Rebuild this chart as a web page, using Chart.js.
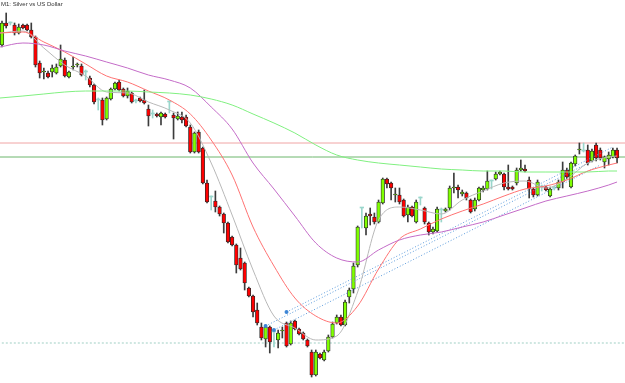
<!DOCTYPE html>
<html>
<head>
<meta charset="utf-8">
<script src="https://cdn.jsdelivr.net/npm/chart.js@4.4.1/dist/chart.umd.min.js"></script>
<style>
html,body{margin:0;padding:0;background:#fff;}
#wrap{position:relative;width:625px;height:383px;}
#title{position:absolute;left:1px;top:1px;font:6px "Liberation Sans",Arial,sans-serif;color:#333;white-space:nowrap;}
canvas{display:block;}
</style>
</head>
<body>
<div id="wrap">
<canvas id="c" width="625" height="383"></canvas>
<div id="title">M1: Silver vs US Dollar</div>
</div>
<script>
// ---- candle data (M1 bars, oldest first) ----
const open = [15.455,15.477,15.477,15.475,15.467,15.475,15.475,15.470,15.463,15.437,
15.428,15.427,15.428,15.427,15.434,15.440,15.423,15.433,15.435,15.434,
15.428,15.422,15.415,15.400,15.400,15.381,15.401,15.411,15.418,15.411,
15.404,15.407,15.399,15.402,15.400,15.391,15.386,15.386,15.383,15.386,
15.398,15.385,15.381,15.383,15.383,15.373,15.348,15.368,15.352,15.317,
15.303,15.299,15.293,15.286,15.277,15.263,15.255,15.242,15.237,15.212,
15.204,15.190,15.173,15.161,15.173,15.168,15.160,15.169,15.177,15.156,
15.179,15.171,15.167,15.160,15.148,15.125,15.146,15.140,15.149,15.163,
15.177,15.183,15.175,15.203,15.211,15.235,15.292,15.272,15.286,15.283,
15.278,15.297,15.321,15.317,15.305,15.305,15.300,15.285,15.293,15.278,
15.302,15.292,15.277,15.268,15.269,15.290,15.289,15.292,15.312,15.313,
15.306,15.307,15.300,15.291,15.300,15.310,15.311,15.319,15.321,15.326,
15.326,15.313,15.313,15.317,15.330,15.331,15.320,15.311,15.305,15.313,
15.313,15.304,15.312,15.312,15.318,15.330,15.313,15.336,15.350,15.349,
15.350,15.339,15.355,15.350,15.338,15.341,15.343,15.350];
const high = [15.479,15.487,15.478,15.477,15.476,15.476,15.476,15.477,15.464,15.439,
15.432,15.429,15.435,15.436,15.455,15.442,15.429,15.443,15.437,15.436,
15.430,15.424,15.416,15.402,15.402,15.403,15.412,15.418,15.420,15.412,
15.412,15.408,15.401,15.403,15.410,15.395,15.390,15.387,15.388,15.387,
15.399,15.387,15.388,15.388,15.385,15.375,15.368,15.370,15.353,15.320,
15.304,15.309,15.294,15.287,15.278,15.264,15.256,15.252,15.238,15.213,
15.205,15.197,15.177,15.175,15.174,15.169,15.170,15.173,15.178,15.179,
15.180,15.172,15.168,15.161,15.150,15.150,15.147,15.150,15.165,15.178,
15.185,15.185,15.200,15.212,15.237,15.274,15.292,15.287,15.292,15.287,
15.300,15.322,15.322,15.318,15.312,15.312,15.301,15.295,15.294,15.300,
15.303,15.293,15.278,15.273,15.293,15.292,15.292,15.314,15.327,15.315,
15.310,15.308,15.301,15.302,15.313,15.314,15.329,15.320,15.328,15.329,
15.327,15.335,15.314,15.332,15.340,15.335,15.323,15.312,15.320,15.315,
15.314,15.313,15.314,15.320,15.338,15.332,15.338,15.345,15.357,15.357,
15.355,15.351,15.357,15.352,15.344,15.348,15.352,15.352];
const low = [15.453,15.472,15.475,15.465,15.466,15.471,15.469,15.462,15.433,15.422,
15.421,15.422,15.423,15.426,15.433,15.423,15.422,15.430,15.433,15.424,
15.420,15.413,15.396,15.390,15.375,15.380,15.400,15.410,15.409,15.403,
15.402,15.397,15.397,15.398,15.396,15.374,15.382,15.383,15.375,15.382,
15.387,15.361,15.380,15.377,15.373,15.347,15.347,15.347,15.316,15.297,
15.290,15.288,15.284,15.267,15.257,15.254,15.227,15.230,15.210,15.203,
15.183,15.175,15.160,15.153,15.147,15.153,15.152,15.162,15.153,15.155,
15.170,15.165,15.160,15.153,15.123,15.124,15.141,15.139,15.148,15.162,
15.176,15.174,15.174,15.197,15.207,15.233,15.272,15.265,15.275,15.276,
15.277,15.296,15.312,15.300,15.298,15.296,15.283,15.278,15.283,15.277,
15.295,15.276,15.265,15.266,15.268,15.278,15.288,15.290,15.307,15.302,
15.304,15.300,15.287,15.289,15.299,15.308,15.310,15.311,15.320,15.325,
15.310,15.310,15.310,15.315,15.329,15.328,15.302,15.303,15.304,15.309,
15.309,15.303,15.310,15.310,15.312,15.321,15.312,15.334,15.346,15.348,
15.335,15.338,15.339,15.340,15.332,15.335,15.342,15.337];
const close = [15.477,15.474,15.477,15.467,15.473,15.472,15.470,15.463,15.435,15.427,
15.429,15.423,15.432,15.433,15.441,15.424,15.428,15.434,15.436,15.425,
15.428,15.415,15.398,15.400,15.380,15.402,15.411,15.417,15.410,15.404,
15.409,15.398,15.399,15.399,15.397,15.384,15.386,15.384,15.387,15.383,
15.398,15.382,15.384,15.380,15.374,15.348,15.367,15.348,15.317,15.298,
15.303,15.293,15.286,15.277,15.258,15.255,15.235,15.231,15.217,15.204,
15.188,15.177,15.162,15.173,15.158,15.168,15.167,15.170,15.154,15.177,
15.171,15.166,15.161,15.154,15.125,15.148,15.142,15.148,15.163,15.176,
15.183,15.175,15.198,15.210,15.234,15.273,15.292,15.284,15.284,15.278,
15.298,15.321,15.316,15.312,15.306,15.298,15.284,15.293,15.284,15.298,
15.302,15.278,15.268,15.271,15.291,15.290,15.291,15.312,15.313,15.310,
15.308,15.302,15.288,15.300,15.312,15.312,15.319,15.319,15.326,15.328,
15.313,15.311,15.311,15.330,15.332,15.329,15.311,15.305,15.318,15.313,
15.310,15.311,15.312,15.318,15.330,15.323,15.337,15.344,15.351,15.349,
15.337,15.349,15.342,15.342,15.343,15.345,15.350,15.342];

// ---- moving averages, read at sampled bar positions ----
const maBars = [-0.5,5,10,15,20,25,30,35,40,45,50,55,60,65,70,75,80,85,90,95,100,105,110,115,120,125,130,135,140,145,147];
const maFast = [15.467,15.469,15.452,15.435,15.424,15.408,15.407,15.398,15.390,15.377,15.337,15.285,15.230,15.184,15.172,15.160,15.164,15.208,15.280,15.293,15.290,15.286,15.300,15.309,15.317,15.319,15.312,15.321,15.337,15.343,15.344];
const maMid = [15.467,15.468,15.458,15.448,15.436,15.424,15.418,15.409,15.400,15.386,15.360,15.325,15.273,15.234,15.202,15.184,15.177,15.194,15.231,15.261,15.271,15.281,15.289,15.296,15.304,15.311,15.314,15.320,15.329,15.335,15.337];
const maSlow = [15.453,15.457,15.455,15.449,15.444,15.438,15.432,15.425,15.420,15.412,15.393,15.371,15.337,15.311,15.284,15.257,15.242,15.238,15.250,15.260,15.265,15.268,15.273,15.278,15.285,15.292,15.299,15.304,15.309,15.315,15.318];
const maLong = [15.402,15.404,15.406,15.408,15.409,15.409,15.409,15.408,15.407,15.405,15.401,15.395,15.386,15.377,15.367,15.355,15.345,15.340,15.337,15.335,15.333,15.331,15.330,15.329,15.329,15.328,15.328,15.328,15.328,15.329,15.329];

// ---- horizontal levels ----
const levelUpper = 15.357;
const levelLower = 15.343;
const levelDashed = 15.157;

// ---- channel lines [startBar, startPrice, endBar, endPrice] ----
const chanA = [68, 15.188, 146, 15.353];
const chanB = [63, 15.174, 143, 15.343];
const chanC = [65, 15.170, 143, 15.335];

const UP = '#7fff00', DOWN = '#ff0000', DOJI = '#9ad6cc', WICK = '#3c3c3c', EDGE = '#2a2a2a';
const bars = open.map((_, i) => i);
const kind = i => close[i] > open[i] ? 1 : (close[i] < open[i] ? -1 : 0);

const maSeries = (vals) => maBars.map((b, k) => ({x: b, y: vals[k]}));
const lineDs = (vals, color) => ({
  type: 'line', data: maSeries(vals), borderColor: color, borderWidth: 1,
  pointRadius: 0, cubicInterpolationMode: 'monotone', order: 0
});
const levelDs = (v, color, dash) => ({
  type: 'line', data: [{x: -1, y: v}, {x: 150, y: v}], borderColor: color, borderWidth: 1,
  borderDash: dash || [], pointRadius: 0, order: 3
});
const chanDs = (c) => ({
  type: 'line', data: [{x: c[0], y: c[1]}, {x: c[2], y: c[3]}], borderColor: '#5b9bdc', borderWidth: 1,
  borderDash: [1, 2], pointRadius: [2, 0], pointBackgroundColor: '#3d86d6', pointBorderWidth: 0, order: 0
});

new Chart(document.getElementById('c'), {
  type: 'bar',
  data: {
    datasets: [
      levelDs(levelUpper, '#f0a4a4'),
      levelDs(levelLower, '#6cb66c'),
      levelDs(levelDashed, '#9fcfc4', [2, 2]),
      lineDs(maLong, '#80f080'),
      lineDs(maSlow, '#c46cc8'),
      lineDs(maMid, '#ff7272'),
      lineDs(maFast, '#b8b8b8'),
      chanDs(chanA), chanDs(chanB), chanDs(chanC),
      {
        type: 'bar', order: 2, grouped: false, barThickness: 1,
        data: bars.map(i => ({x: i, y: [low[i], high[i]]})),
        backgroundColor: bars.map(i => kind(i) === 0 ? DOJI : WICK),
        borderWidth: 0
      },
      {
        type: 'bar', order: 1, grouped: false, barThickness: 3.6, minBarLength: 1,
        data: bars.map(i => ({x: i, y: [Math.min(open[i], close[i]), Math.max(open[i], close[i])]})),
        backgroundColor: bars.map(i => kind(i) > 0 ? UP : (kind(i) < 0 ? DOWN : DOJI)),
        borderColor: bars.map(i => kind(i) === 0 ? DOJI : EDGE),
        borderWidth: bars.map(i => kind(i) === 0 ? 0 : 0.8),
        borderSkipped: false
      }
    ]
  },
  options: {
    responsive: false, animation: false, devicePixelRatio: 1,
    layout: {padding: 0, autoPadding: false},
    plugins: {legend: {display: false}, tooltip: {enabled: false}, title: {display: false}},
    scales: {
      x: {type: 'linear', min: -0.478, max: 148.9, display: false, offset: false},
      y: {min: 15.117, max: 15.5, display: false}
    }
  }
});
</script>
</body>
</html>
